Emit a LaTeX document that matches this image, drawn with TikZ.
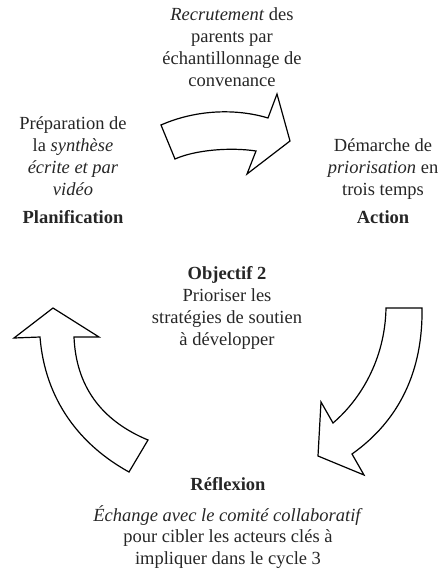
\documentclass[tikz,border=0pt]{standalone}
\usepackage{fontspec}
\setmainfont{Liberation Serif}
\begin{document}
\begin{tikzpicture}[x=1pt,y=-1pt,
  txt/.style={align=center,inner sep=0pt,font=\fontsize{18.5}{21.8}\selectfont,text=black!85},
  bold/.style={txt,font=\fontsize{18.5}{21.8}\selectfont\bfseries},
  bigarrow/.style={draw=black,line width=1.2pt,fill=white,line join=miter}]
\useasboundingbox (0,0) rectangle (442,571);
% texts
\node[txt] (recr) at (232,47) {\textit{Recrutement} des\\parents par\\échantillonnage de\\convenance};
\node[txt] (prep) at (73,156) {Préparation de\\la \textit{synthèse}\\\textit{écrite et par}\\\textit{vidéo}};
\node[txt] (dem) at (383,169) {Démarche de\\\textit{priorisation} en\\trois temps};
\node[bold] (plan) at (73,217) {Planification};
\node[bold] (act) at (383,217) {Action};
\node[txt] (obj) at (227,308) {\textbf{Objectif 2}\\Prioriser les\\stratégies de soutien\\à développer};
\node[bold] (refl) at (228,484) {Réflexion};
\node[txt] (ech) at (228,537) {\textit{Échange avec le comité collaboratif}\\pour cibler les acteurs clés à\\impliquer dans le cycle 3};
% arrows
\path[bigarrow] (161,125) -- (175,159) .. controls (195,150) and (230,147) .. (256,151)
  -- (247,174) -- (290,141) -- (277,94) -- (268,118)
  .. controls (235,108) and (195,110) .. (161,125) -- cycle;
\path[bigarrow] (53,308) -- (99,337) -- (74,337) .. controls (76,385) and (100,420) .. (148,440)
  -- (129,472) .. controls (80,445) and (45,400) .. (40,337) -- (14,338) -- cycle;
\path[bigarrow] (386,308) -- (422,308) .. controls (423,370) and (400,420) .. (352,454)
  -- (364,475) -- (318,456) -- (321,402) -- (333,423)
  .. controls (360,400) and (385,360) .. (386,308) -- cycle;
\end{tikzpicture}
\end{document}
